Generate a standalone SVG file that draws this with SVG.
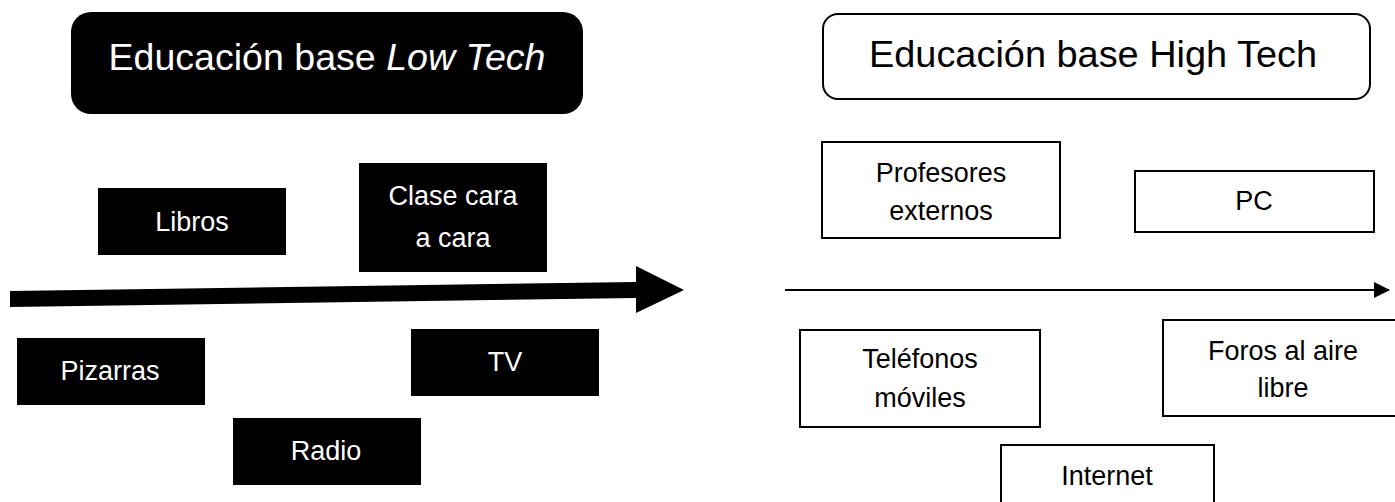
<svg xmlns="http://www.w3.org/2000/svg" width="1395" height="502" viewBox="0 0 1395 502">
<style>
.t{font-family:"Liberation Sans",Arial,sans-serif;font-size:27px;text-anchor:middle}
.w{fill:#fff}
.k{fill:#000}
.bb{fill:#000}
.wb{fill:#fff;stroke:#000;stroke-width:2}
.title{font-family:"Liberation Sans",Arial,sans-serif;font-size:37px;text-anchor:middle}
</style>
<defs>
<marker id="ah" markerWidth="16" markerHeight="16" refX="15" refY="8" orient="auto" markerUnits="userSpaceOnUse">
<path d="M0,0 L16,8 L0,16 Z" fill="#000"/>
</marker>
</defs>
<rect width="1395" height="502" fill="#fff"/>
<g id="connectors">
<polygon id="arrow-low" points="10,291 636,282 636,266 684,290 636,313 636,298 10,307" fill="#000"/>
<line id="arrow-high" x1="785" y1="290" x2="1389" y2="290" stroke="#000" stroke-width="2" marker-end="url(#ah)"/>
</g>
<g id="title-low">
<rect x="71" y="12" width="512" height="102" rx="20" class="bb"/>
<text class="title w" x="327" y="70" textLength="437" lengthAdjust="spacingAndGlyphs">Educación base <tspan font-style="italic">Low Tech</tspan></text>
</g>
<g id="title-high">
<rect x="823" y="14" width="547" height="85" rx="15" class="wb"/>
<text class="title k" x="1093" y="67" textLength="448" lengthAdjust="spacingAndGlyphs">Educación base High Tech</text>
</g>
<g id="libros">
<rect x="98" y="188" width="188" height="67" class="bb"/>
<text class="t w" x="192" y="231">Libros</text>
</g>
<g id="clase">
<rect x="359" y="163" width="188" height="109" class="bb"/>
<text class="t w" x="453" y="205">Clase cara</text>
<text class="t w" x="453" y="247">a cara</text>
</g>
<g id="pizarras">
<rect x="17" y="338" width="188" height="67" class="bb"/>
<text class="t w" x="110" y="380">Pizarras</text>
</g>
<g id="tv">
<rect x="411" y="329" width="188" height="67" class="bb"/>
<text class="t w" x="505" y="371">TV</text>
</g>
<g id="radio">
<rect x="233" y="418" width="188" height="67" class="bb"/>
<text class="t w" x="326" y="460">Radio</text>
</g>
<g id="profesores">
<rect x="822" y="142" width="238" height="96" class="wb"/>
<text class="t k" x="941" y="182">Profesores</text>
<text class="t k" x="941" y="220">externos</text>
</g>
<g id="pc">
<rect x="1135" y="171" width="239" height="61" class="wb"/>
<text class="t k" x="1254" y="210">PC</text>
</g>
<g id="telefonos">
<rect x="800" y="330" width="240" height="97" class="wb"/>
<text class="t k" x="920" y="368">Teléfonos</text>
<text class="t k" x="920" y="407">móviles</text>
</g>
<g id="foros">
<rect x="1163" y="320" width="240" height="96" class="wb"/>
<text class="t k" x="1283" y="360">Foros al aire</text>
<text class="t k" x="1283" y="397">libre</text>
</g>
<g id="internet">
<rect x="1001" y="445" width="213" height="70" class="wb"/>
<text class="t k" x="1107" y="485">Internet</text>
</g>
</svg>
